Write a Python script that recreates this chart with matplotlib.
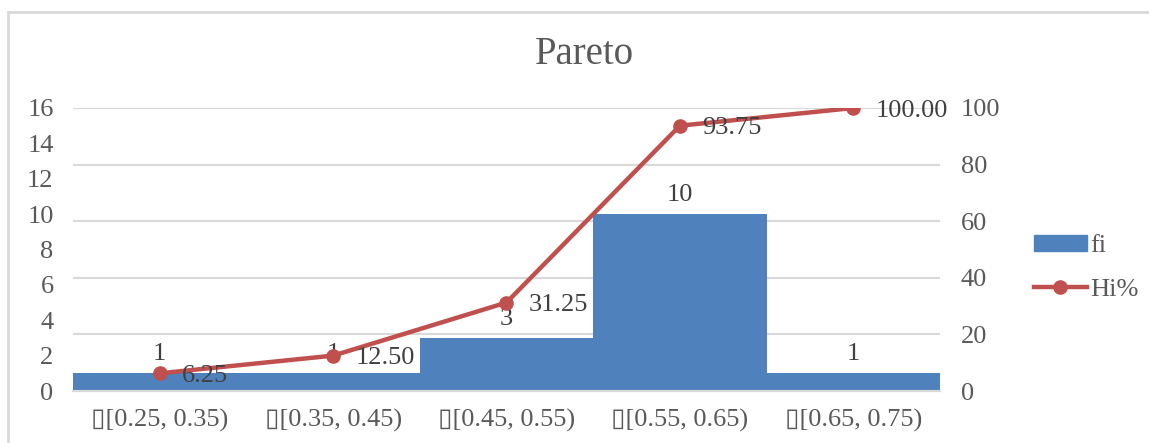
import matplotlib
matplotlib.use("Agg")
import matplotlib.pyplot as plt
from matplotlib.lines import Line2D
from matplotlib.patches import Patch
import numpy as np

# ---- data ----
categories = ["▯[0.25, 0.35)", "▯[0.35, 0.45)", "▯[0.45, 0.55)", "▯[0.55, 0.65)", "▯[0.65, 0.75)"]
fi = [1, 1, 3, 10, 1]
hi_pct = [6.25, 12.50, 31.25, 93.75, 100.00]
left_ticks = [0, 2, 4, 6, 8, 10, 12, 14, 16]
right_ticks = [0, 20, 40, 60, 80, 100]

FONT = ["Liberation Serif", "DejaVu Sans"]
plt.rcParams["font.family"] = FONT
BLUE = "#4F81BD"
RED = "#C0504D"
TICK = "#595959"
LAB = "#404040"
GRID = "#D9D9D9"
FS = 19

fig = plt.figure(figsize=(11.49, 4.43), dpi=100)
ax = fig.add_axes([73/1149, 1-391/443, (940-73)/1149, (391-108)/443])
ax2 = ax.twinx()

x = np.arange(len(categories))
ax.bar(x, fi, width=1.0, color=BLUE, zorder=2)
ax.set_xlim(-0.5, len(categories)-0.5)
ax.set_ylim(0, 16)
ax2.set_ylim(0, 100)

# gridlines at right-axis ticks, behind bars
for t in right_ticks[1:]:
    ax.axhline(t/100*16, color=GRID, lw=1.5, zorder=1)

ax.set_yticks(left_ticks)
ax.set_yticklabels([str(t) for t in left_ticks])
ax2.set_yticks(right_ticks)
ax2.set_yticklabels([str(t) for t in right_ticks])
ax.set_xticks(x)
ax.set_xticklabels(categories)

ax.tick_params(axis="y", length=0, pad=14, labelsize=FS, labelcolor=TICK)
ax2.tick_params(axis="y", length=0, pad=15, labelsize=FS, labelcolor=TICK)
ax.tick_params(axis="x", length=0, pad=13, labelsize=FS, labelcolor=TICK)

for a in (ax, ax2):
    for s in ["top", "left", "right"]:
        a.spines[s].set_visible(False)
    a.spines["bottom"].set_color(GRID)
    a.spines["bottom"].set_linewidth(1.5)
    a.patch.set_visible(False)

ax2.plot(x, hi_pct, color=RED, lw=3.2, marker="o", markersize=9.5, zorder=3,
         solid_capstyle="round")

for xi, v in zip(x, fi):
    ax.annotate(str(v), (xi, v), xytext=(0, 6), textcoords="offset points",
                ha="center", va="bottom", fontsize=FS, color=LAB)
for xi, v in zip(x, hi_pct):
    ax2.annotate(f"{v:.2f}", (xi, v), xytext=(16, -2), textcoords="offset points",
                 ha="left", va="center", fontsize=FS, color=LAB, annotation_clip=False)

fig.text(584/1149, 1-55/443, "Pareto", ha="center", va="center", fontsize=28, color=TICK)

handles = [Patch(color=BLUE, label="fi"),
           Line2D([], [], color=RED, lw=3.2, marker="o", markersize=9.5, label="Hi%")]
fig.legend(handles=handles, loc="center left", bbox_to_anchor=(1010/1149, 1-268/443),
           frameon=False, fontsize=FS, labelcolor=TICK, handlelength=2.0,
           handletextpad=0.15, labelspacing=0.8, handleheight=0.55)

# chart border (cropped)
fig.add_artist(Line2D([8/1149, 8/1149], [0, 1-12/443], transform=fig.transFigure,
                      color=GRID, lw=2))
fig.add_artist(Line2D([8/1149, 1], [1-12/443, 1-12/443], transform=fig.transFigure,
                      color=GRID, lw=2))

fig.savefig("out.png", dpi=100)
